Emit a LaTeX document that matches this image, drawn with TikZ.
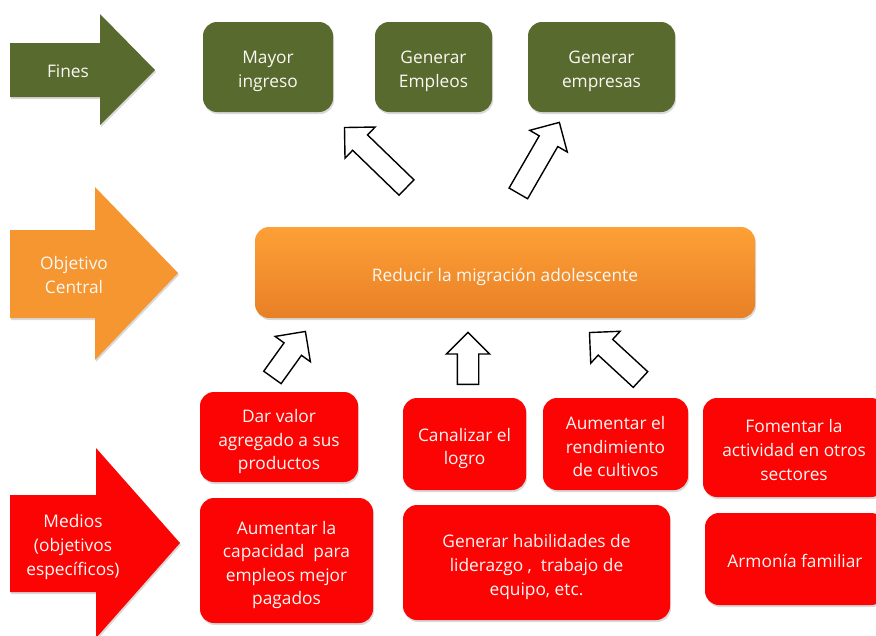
\documentclass[tikz,border=0pt]{standalone}
\usepackage{fontspec}
\setmainfont{Open Sans}
\usetikzlibrary{calc,shadows,shapes.arrows}
\definecolor{finegreen}{RGB}{89,106,46}
\definecolor{orangetop}{RGB}{253,160,54}
\definecolor{orangebot}{RGB}{232,128,38}
\definecolor{orangearrow}{RGB}{245,150,48}
\definecolor{medred}{RGB}{252,4,4}
\definecolor{lighttext}{RGB}{250,248,244}
\tikzset{
  txt/.style={text=lighttext, align=center, inner sep=0pt, font=\fontsize{17.3}{23.6}\selectfont,
    execute at begin node={\rule{0pt}{22pt}}, execute at end node={\rule[-8pt]{0pt}{0pt}}},
  shad/.style={drop shadow={shadow xshift=1pt,shadow yshift=-2pt,opacity=0.3}},
  box/.style={shad, rounded corners=14pt, inner sep=0pt},
  greenbox/.style={box, fill=finegreen},
  orangebox/.style={box, top color=orangetop, bottom color=orangebot},
  redbox/.style={box, fill=medred},
  hollow/.style={draw=black, line width=1.4pt, fill=white, single arrow,
    single arrow head extend=11pt, inner xsep=0pt, inner ysep=10pt, anchor=tail},
}
\newcommand\hollowarrow[2]{%
  \path let \p1=(#1), \p2=(#2), \n1={atan2(\y2-\y1,\x2-\x1)},
    \n2={veclen(\x2-\x1,\y2-\y1)} in
    node[hollow, minimum height=\n2, rotate=\n1] at (\p1) {};}
% text node placed on a box: name, vertical shift, text
\newcommand\boxtext[3]{\node[txt] (#1-t) at ([yshift=#2]#1.center) {#3};}
\begin{document}
\begin{tikzpicture}[x=1pt,y=-1pt]
\useasboundingbox (0,0) rectangle (876,635);
% big side arrows
\fill[finegreen, shad] (10,43) -- (100,43) -- (100,14) -- (155,70) -- (100,125) -- (100,97) -- (10,97) -- cycle;
\node[txt] (fines) at (68,70.5) {Fines};
\fill[orangearrow, shad] (10,230) -- (95,230) -- (95,187) -- (178,273) -- (95,360) -- (95,318) -- (10,318) -- cycle;
\node[txt] (objetivo) at (74,279) {Objetivo\\Central};
\fill[medred, shad] (10,495) -- (96,495) -- (96,448) -- (180,543) -- (96,638) -- (96,592) -- (10,592) -- cycle;
\node[txt] (medios) at (73,549) {Medios\\(objetivos\\específicos)};
% fines
\node[greenbox, minimum width=130pt, minimum height=90pt] (mayor) at (268,67) {};
\node[greenbox, minimum width=117pt, minimum height=90pt] (empleos) at (433.5,67) {};
\node[greenbox, minimum width=147pt, minimum height=90pt] (empresas) at (601.5,67) {};
\boxtext{mayor}{-6.5pt}{Mayor\\ingreso}
\boxtext{empleos}{-6.5pt}{Generar\\Empleos}
\boxtext{empresas}{-6.5pt}{Generar\\empresas}
% central
\node[orangebox, minimum width=500pt, minimum height=91pt] (central) at (505,272.5) {};
\boxtext{central}{-1.5pt}{Reducir la migración adolescente}
% medios
\node[redbox, minimum width=158pt, minimum height=90pt] (dar) at (279,437) {};
\node[redbox, minimum width=123pt, minimum height=92pt] (canal) at (464.5,444) {};
\node[redbox, minimum width=145pt, minimum height=92pt] (rend) at (615.5,444) {};
\node[redbox, minimum width=182pt, minimum height=99pt] (foment) at (794,447.5) {};
\node[redbox, minimum width=173pt, minimum height=125pt] (capac) at (286.5,560.5) {};
\node[redbox, minimum width=267pt, minimum height=115pt] (habil) at (536.5,562.5) {};
\node[redbox, minimum width=180pt, minimum height=92pt] (armonia) at (795,559) {};
\boxtext{dar}{-6.5pt}{Dar valor\\agregado a sus\\productos}
\boxtext{canal}{-6.5pt}{Canalizar el\\logro}
\boxtext{rend}{-6.5pt}{Aumentar el\\rendimiento\\de cultivos}
\boxtext{foment}{-6.5pt}{Fomentar la\\actividad en otros\\sectores}
\boxtext{capac}{-6.5pt}{Aumentar la\\capacidad~ para\\empleos mejor\\pagados}
\boxtext{habil}{-6.5pt}{Generar habilidades de\\liderazgo ,~ trabajo de\\equipo, etc.}
\boxtext{armonia}{-1.5pt}{Armonía familiar}
% hollow arrows
\coordinate (a1t) at (407,188); \coordinate (a1h) at (345,128);
\coordinate (a2t) at (518,194); \coordinate (a2h) at (559,123);
\coordinate (a3t) at (272,378); \coordinate (a3h) at (305,332);
\coordinate (a4t) at (468,385); \coordinate (a4h) at (468,333);
\coordinate (a5t) at (641,380); \coordinate (a5h) at (590,333);
\hollowarrow{a1t}{a1h}
\hollowarrow{a2t}{a2h}
\hollowarrow{a3t}{a3h}
\hollowarrow{a4t}{a4h}
\hollowarrow{a5t}{a5h}
\end{tikzpicture}
\end{document}
